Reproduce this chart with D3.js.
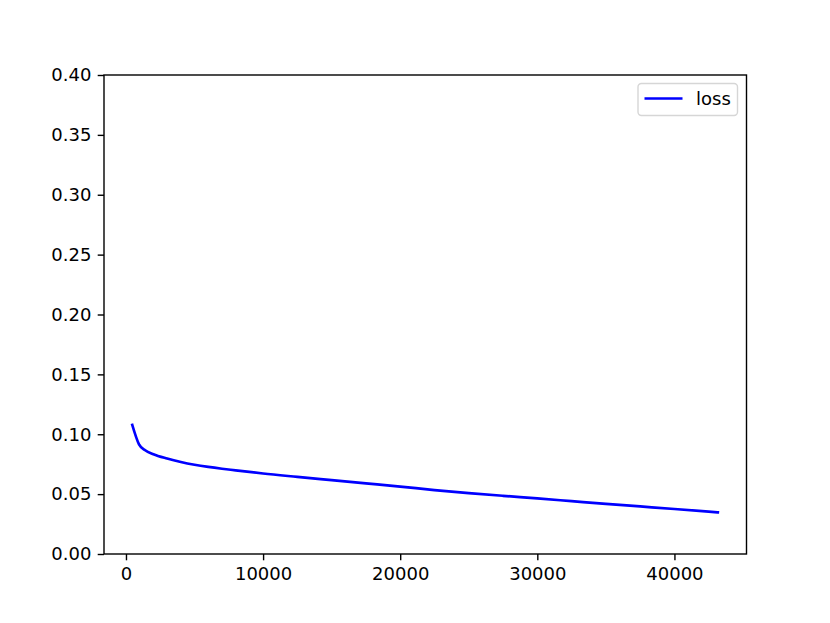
<!DOCTYPE html>
<html><head><meta charset="utf-8">
<script src="https://cdn.jsdelivr.net/npm/d3@7"></script>
<style>body{margin:0;background:#fff;} text{font-family:"DejaVu Sans",sans-serif;}</style>
</head><body>
<svg id="c" width="830" height="623"></svg>
<script>
const steps = [460, 950, 1400, 2000, 3000, 4000, 5000, 6000, 7000, 8000, 10000, 12500, 15000, 17500, 20000, 22500, 25000, 27500, 30000, 32500, 35000, 37500, 40000, 42500, 43164];
const loss  = [0.1077, 0.0916, 0.0866, 0.0833, 0.0797, 0.0768, 0.0745, 0.0727, 0.0712, 0.0699, 0.0672, 0.0644, 0.0617, 0.0590, 0.0563, 0.0534, 0.0509, 0.0486, 0.0464, 0.0441, 0.0418, 0.0397, 0.0376, 0.0354, 0.0348];
const xTicks = [0, 10000, 20000, 30000, 40000];
const yTicks = [0.00, 0.05, 0.10, 0.15, 0.20, 0.25, 0.30, 0.35, 0.40];
const seriesName = "loss";

const svg = d3.select("#c");
const L = 104, R = 746.5, T = 75, B = 554;
const x = d3.scaleLinear().domain([-1603, 45256]).range([L, R]);
const y = d3.scaleLinear().domain([0, 0.4]).range([B, T]);

const fs = "18px";
const tick = 6.3;
// line
const data = steps.map((s, i) => [s, loss[i]]);
svg.append("path").datum(data)
  .attr("fill", "none").attr("stroke", "#0000ff").attr("stroke-width", 2.7)
  .attr("stroke-linejoin", "round").attr("stroke-linecap", "square")
  .attr("d", d3.line().x(d => x(d[0])).y(d => y(d[1])).curve(d3.curveMonotoneX));

// axes
const xa = svg.append("g").attr("transform", `translate(0,${B})`)
  .call(d3.axisBottom(x).tickValues(xTicks).tickSize(tick).tickPadding(tick).tickFormat(d3.format("d")));
const ya = svg.append("g").attr("transform", `translate(${L},0)`)
  .call(d3.axisLeft(y).tickValues(yTicks).tickSize(tick).tickPadding(tick).tickFormat(d3.format(".2f")));
[xa, ya].forEach(a => {
  a.select(".domain").remove();
  a.selectAll(".tick line").attr("stroke", "#000").attr("stroke-width", 1.4);
  a.selectAll(".tick text").attr("fill", "#000").style("font-size", fs).style("font-family", "DejaVu Sans");
});
xa.selectAll(".tick text").attr("dy", "0.76em");

// frame
svg.append("rect").attr("x", L).attr("y", T).attr("width", R - L).attr("height", B - T)
  .attr("fill", "none").attr("stroke", "#000").attr("stroke-width", 1.4);

// legend
const lg = svg.append("g");
lg.append("rect").attr("x", 638).attr("y", 83.5).attr("width", 99.5).attr("height", 32)
  .attr("rx", 3.5).attr("fill", "#fff").attr("fill-opacity", 0.8).attr("stroke", "#d6d6d6").attr("stroke-width", 1.4);
lg.append("line").attr("x1", 644.5).attr("x2", 682.5).attr("y1", 98.5).attr("y2", 98.5)
  .attr("stroke", "#0000ff").attr("stroke-width", 2.7);
lg.append("text").attr("x", 696).attr("y", 98.5).attr("dy", "0.36em")
  .style("font-size", fs).attr("fill", "#000").text(seriesName);
</script>
</body></html>
